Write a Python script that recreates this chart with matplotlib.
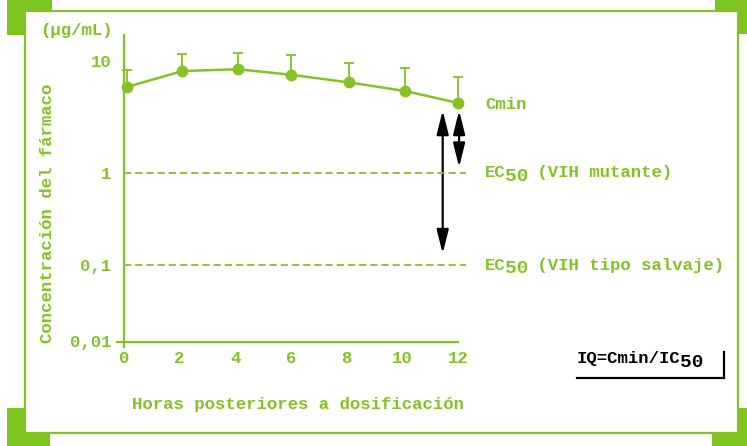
import numpy as np
import matplotlib
matplotlib.use('Agg')
import matplotlib.pyplot as plt
from matplotlib.patches import Rectangle, FancyArrowPatch
from matplotlib.lines import Line2D

# DATOS

horas = [0.1, 2.1, 4.1, 6.0, 8.1, 10.1, 12.0]
concentracion = [5.83, 8.1, 8.4, 7.5, 6.4, 5.37, 4.2]
error_sup = [8.2, 11.4, 11.8, 11.2, 9.6, 8.6, 7.2]
ec50_mutante = 1.0
ec50_salvaje = 0.1
xticks = [0, 2, 4, 6, 8, 10, 12]
yticks = [0.01, 0.1, 1, 10]
ytick_labels = ['0,01', '0,1', '1', '10']

verde = '#84c225'
verde_bloque = '#7ec421'
fuente = 'Liberation Mono'
plt.rcParams['font.family'] = [fuente, 'DejaVu Sans']
plt.rcParams['font.weight'] = 'bold'
FS = 12.5

W, H = 747, 446
fig = plt.figure(figsize=(W / 100, H / 100), dpi=100)


def px(x, y):
    # pixel (desde arriba) -> fraccion de figura
    return x / W, 1 - y / H


# FONDO: bloques de esquina + panel

for (x0, y0, x1, y1) in [(7, 0, 52, 35), (715, 0, 747, 34), (7, 408, 50, 446), (712, 408, 747, 446)]:
    fig.add_artist(Rectangle(px(x0, y1), (x1 - x0) / W, (y1 - y0) / H, transform=fig.transFigure,
                             facecolor=verde_bloque, edgecolor='none', zorder=-3))
fig.add_artist(Rectangle(px(25, 433), (738 - 25) / W, (433 - 11) / H, transform=fig.transFigure,
                         facecolor='white', edgecolor=verde, lw=1.6, zorder=-2))

# EJES con escala "log" esquematica (decadas de distinto tamaño)

log_pts = [-3, -2, -1, 0, 1, 2]
pos_pts = [-76.5, 0, 76.5, 169, 281, 393]


def fwd(y):
    y = np.clip(np.asarray(y, dtype=float), 1e-9, None)
    return np.interp(np.log10(y), log_pts, pos_pts)


def inv(v):
    return 10 ** np.interp(np.asarray(v, dtype=float), pos_pts, log_pts)


ax = fig.add_axes([124 / W, (H - 341.5) / H, (458 - 124) / W, (341.5 - 35) / H])
ax.patch.set_visible(False)
ax.set_yscale('function', functions=(fwd, inv))
ax.set_xlim(0, 12)
ax.set_ylim(0.01, 17)
ax.set_xticks(xticks)
ax.set_xticklabels([str(v) for v in xticks])
ax.set_yticks(yticks)
ax.set_yticklabels(ytick_labels)
ax.yaxis.set_minor_locator(matplotlib.ticker.NullLocator())
ax.tick_params(length=0, colors=verde, labelsize=FS)
ax.tick_params(axis='y', pad=9)
ax.tick_params(axis='x', pad=7)
for lab in ax.get_xticklabels() + ax.get_yticklabels():
    lab.set_fontweight('bold')
for s in ['top', 'right']:
    ax.spines[s].set_visible(False)
for s in ['left', 'bottom']:
    ax.spines[s].set_color(verde)
    ax.spines[s].set_linewidth(1.6)
# pequeños salientes de los ejes en el origen
ax.plot([-0.02, 0], [0, 0], transform=ax.transAxes, color=verde, lw=1.6, clip_on=False)
ax.plot([0, 0], [-0.018, 0], transform=ax.transAxes, color=verde, lw=1.6, clip_on=False)

# lineas EC50
for val in [ec50_mutante, ec50_salvaje]:
    ax.plot([0, 12.3], [val, val], color=verde, lw=1.3, ls=(0, (4, 2.2)), clip_on=False)

# curva + barras de error
err = [np.zeros(len(horas)), np.array(error_sup) - np.array(concentracion)]
ax.errorbar(horas, concentracion, yerr=err, fmt='none', ecolor=verde, elinewidth=1.3,
            capsize=3.5, capthick=1.3, clip_on=False)
ax.plot(horas, concentracion, color=verde, lw=1.8, marker='o', ms=7.5, clip_on=False)

# flechas
for (xa, y0, y1) in [(11.45, 3.6, 0.133), (12.04, 3.6, 1.12)]:
    ax.add_patch(FancyArrowPatch((xa, y0), (xa, y1), arrowstyle='<|-|>,head_length=1.45,head_width=0.36',
                                 mutation_scale=10, color='black', lw=1.6, clip_on=False,
                                 shrinkA=0, shrinkB=0))


def texto_sub(x, y, pre, sub, post, color, size=FS, trans=None):
    cw = 0.6 * size
    kw = dict(color=color, fontweight='bold', va='center', ha='left', annotation_clip=False,
              textcoords='offset points', xycoords='data' if trans is None else trans)
    ax.annotate(pre, (x, y), xytext=(0, 0), fontsize=size, **kw)
    ax.annotate(sub, (x, y), xytext=(len(pre) * cw - 0.5, -2.5), fontsize=size + 1.5, **kw)
    if post:
        ax.annotate(post, (x, y), xytext=((len(pre) + len(sub)) * cw + 0.5, 0), fontsize=size, **kw)


xl = 12.97
ax.text(xl, 4.1, 'Cmin', color=verde, fontsize=FS, fontweight='bold', va='center', ha='left', clip_on=False)
texto_sub(xl, ec50_mutante, 'EC', '50', ' (VIH mutante)', verde)
texto_sub(xl, ec50_salvaje, 'EC', '50', ' (VIH tipo salvaje)', verde)

# caja IQ
texto_sub(577 / W, 1 - 359 / H, 'IQ=Cmin/IC', '50', '', 'black', trans=fig.transFigure)
fig.add_artist(Line2D([577 / W, 724 / W], [1 - 378 / H, 1 - 378 / H], color='black', lw=1.6))
fig.add_artist(Line2D([723.5 / W, 723.5 / W], [1 - 352 / H, 1 - 378 / H], color='black', lw=1.6))

# etiquetas
fig.text(40 / W, 1 - 31 / H, '(µg/mL)', color=verde, fontsize=FS, fontweight='bold', ha='left', va='center')
fig.text(47 / W, 1 - 213 / H, 'Concentración del fármaco', color=verde, fontsize=FS, fontweight='bold',
         rotation=90, ha='center', va='center')
fig.text(298 / W, 1 - 404 / H, 'Horas posteriores a dosificación', color=verde, fontsize=FS,
         fontweight='bold', ha='center', va='center')

fig.savefig('out.png', dpi=100)
